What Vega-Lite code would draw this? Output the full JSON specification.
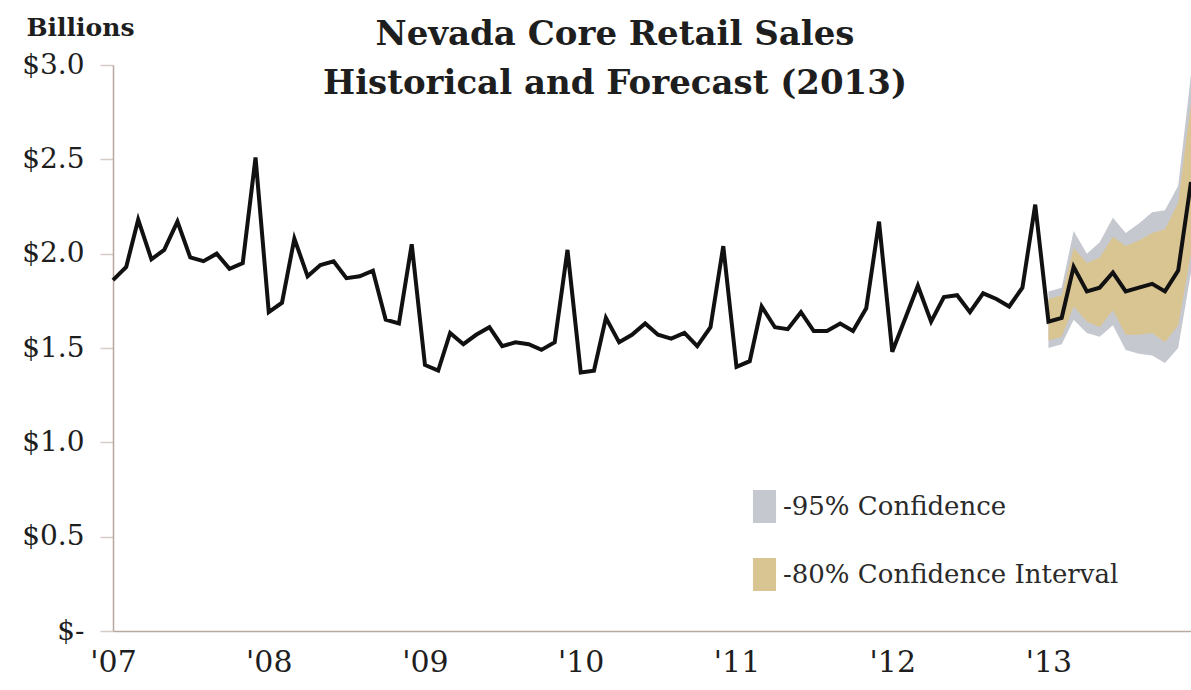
{
  "$schema": "https://vega.github.io/schema/vega-lite/v6.json",
  "width": 1078,
  "height": 566,
  "autosize": {"type": "none"},
  "padding": {"left": 113, "top": 65, "right": 0, "bottom": 59},
  "background": "white",
  "config": {"view": {"stroke": null}, "font": "DejaVu Serif"},
  "title": {
    "text": ["Nevada Core Retail Sales", "Historical and Forecast (2013)"],
    "font": "DejaVu Serif",
    "fontSize": 34,
    "fontWeight": "bold",
    "color": "#1e1e1e",
    "anchor": "middle",
    "frame": "group",
    "baseline": "alphabetic",
    "dx": -37,
    "dy": 113,
    "offset": 0,
    "lineHeight": 49
  },
  "data": {
    "values": [
      {"month": "2007-01-01T00:00", "sales": 1.86},
      {"month": "2007-02-01T00:00", "sales": 1.93},
      {"month": "2007-03-01T00:00", "sales": 2.18},
      {"month": "2007-04-01T00:00", "sales": 1.97},
      {"month": "2007-05-01T00:00", "sales": 2.02},
      {"month": "2007-06-01T00:00", "sales": 2.17},
      {"month": "2007-07-01T00:00", "sales": 1.98},
      {"month": "2007-08-01T00:00", "sales": 1.96},
      {"month": "2007-09-01T00:00", "sales": 2.00},
      {"month": "2007-10-01T00:00", "sales": 1.92},
      {"month": "2007-11-01T00:00", "sales": 1.95},
      {"month": "2007-12-01T00:00", "sales": 2.51},
      {"month": "2008-01-01T00:00", "sales": 1.69},
      {"month": "2008-02-01T00:00", "sales": 1.74},
      {"month": "2008-03-01T00:00", "sales": 2.08},
      {"month": "2008-04-01T00:00", "sales": 1.88},
      {"month": "2008-05-01T00:00", "sales": 1.94},
      {"month": "2008-06-01T00:00", "sales": 1.96},
      {"month": "2008-07-01T00:00", "sales": 1.87},
      {"month": "2008-08-01T00:00", "sales": 1.88},
      {"month": "2008-09-01T00:00", "sales": 1.91},
      {"month": "2008-10-01T00:00", "sales": 1.65},
      {"month": "2008-11-01T00:00", "sales": 1.63},
      {"month": "2008-12-01T00:00", "sales": 2.05},
      {"month": "2009-01-01T00:00", "sales": 1.41},
      {"month": "2009-02-01T00:00", "sales": 1.38},
      {"month": "2009-03-01T00:00", "sales": 1.58},
      {"month": "2009-04-01T00:00", "sales": 1.52},
      {"month": "2009-05-01T00:00", "sales": 1.57},
      {"month": "2009-06-01T00:00", "sales": 1.61},
      {"month": "2009-07-01T00:00", "sales": 1.51},
      {"month": "2009-08-01T00:00", "sales": 1.53},
      {"month": "2009-09-01T00:00", "sales": 1.52},
      {"month": "2009-10-01T00:00", "sales": 1.49},
      {"month": "2009-11-01T00:00", "sales": 1.53},
      {"month": "2009-12-01T00:00", "sales": 2.02},
      {"month": "2010-01-01T00:00", "sales": 1.37},
      {"month": "2010-02-01T00:00", "sales": 1.38},
      {"month": "2010-03-01T00:00", "sales": 1.66},
      {"month": "2010-04-01T00:00", "sales": 1.53},
      {"month": "2010-05-01T00:00", "sales": 1.57},
      {"month": "2010-06-01T00:00", "sales": 1.63},
      {"month": "2010-07-01T00:00", "sales": 1.57},
      {"month": "2010-08-01T00:00", "sales": 1.55},
      {"month": "2010-09-01T00:00", "sales": 1.58},
      {"month": "2010-10-01T00:00", "sales": 1.51},
      {"month": "2010-11-01T00:00", "sales": 1.61},
      {"month": "2010-12-01T00:00", "sales": 2.04},
      {"month": "2011-01-01T00:00", "sales": 1.40},
      {"month": "2011-02-01T00:00", "sales": 1.43},
      {"month": "2011-03-01T00:00", "sales": 1.72},
      {"month": "2011-04-01T00:00", "sales": 1.61},
      {"month": "2011-05-01T00:00", "sales": 1.60},
      {"month": "2011-06-01T00:00", "sales": 1.69},
      {"month": "2011-07-01T00:00", "sales": 1.59},
      {"month": "2011-08-01T00:00", "sales": 1.59},
      {"month": "2011-09-01T00:00", "sales": 1.63},
      {"month": "2011-10-01T00:00", "sales": 1.59},
      {"month": "2011-11-01T00:00", "sales": 1.71},
      {"month": "2011-12-01T00:00", "sales": 2.17},
      {"month": "2012-01-01T00:00", "sales": 1.48},
      {"month": "2012-02-01T00:00", "sales": 1.66},
      {"month": "2012-03-01T00:00", "sales": 1.83},
      {"month": "2012-04-01T00:00", "sales": 1.64},
      {"month": "2012-05-01T00:00", "sales": 1.77},
      {"month": "2012-06-01T00:00", "sales": 1.78},
      {"month": "2012-07-01T00:00", "sales": 1.69},
      {"month": "2012-08-01T00:00", "sales": 1.79},
      {"month": "2012-09-01T00:00", "sales": 1.76},
      {"month": "2012-10-01T00:00", "sales": 1.72},
      {"month": "2012-11-01T00:00", "sales": 1.82},
      {"month": "2012-12-01T00:00", "sales": 2.26},
      {"month": "2013-01-01T00:00", "sales": 1.64, "lo95": 1.50, "hi95": 1.80, "lo80": 1.54, "hi80": 1.76},
      {"month": "2013-02-01T00:00", "sales": 1.66, "lo95": 1.52, "hi95": 1.82, "lo80": 1.56, "hi80": 1.78},
      {"month": "2013-03-01T00:00", "sales": 1.93, "lo95": 1.65, "hi95": 2.12, "lo80": 1.72, "hi80": 2.03},
      {"month": "2013-04-01T00:00", "sales": 1.80, "lo95": 1.58, "hi95": 2.00, "lo80": 1.64, "hi80": 1.95},
      {"month": "2013-05-01T00:00", "sales": 1.82, "lo95": 1.56, "hi95": 2.06, "lo80": 1.61, "hi80": 1.98},
      {"month": "2013-06-01T00:00", "sales": 1.90, "lo95": 1.62, "hi95": 2.19, "lo80": 1.70, "hi80": 2.09},
      {"month": "2013-07-01T00:00", "sales": 1.80, "lo95": 1.49, "hi95": 2.11, "lo80": 1.57, "hi80": 2.04},
      {"month": "2013-08-01T00:00", "sales": 1.82, "lo95": 1.47, "hi95": 2.16, "lo80": 1.57, "hi80": 2.07},
      {"month": "2013-09-01T00:00", "sales": 1.84, "lo95": 1.46, "hi95": 2.22, "lo80": 1.58, "hi80": 2.11},
      {"month": "2013-10-01T00:00", "sales": 1.80, "lo95": 1.42, "hi95": 2.23, "lo80": 1.53, "hi80": 2.13},
      {"month": "2013-11-01T00:00", "sales": 1.91, "lo95": 1.50, "hi95": 2.36, "lo80": 1.62, "hi80": 2.27},
      {"month": "2013-12-01T00:00", "sales": 2.38, "lo95": 1.90, "hi95": 2.95, "lo80": 2.00, "hi80": 2.80}
    ]
  },
  "encoding": {
    "x": {
      "field": "month",
      "type": "temporal",
      "scale": {"domain": [{"year": 2007, "month": 1, "date": 1}, {"year": 2013, "month": 12, "date": 1}]},
      "axis": {
        "title": null,
        "values": [
          {"year": 2007, "month": 1, "date": 1},
          {"year": 2008, "month": 1, "date": 1},
          {"year": 2009, "month": 1, "date": 1},
          {"year": 2010, "month": 1, "date": 1},
          {"year": 2011, "month": 1, "date": 1},
          {"year": 2012, "month": 1, "date": 1},
          {"year": 2013, "month": 1, "date": 1}
        ],
        "format": "'%y",
        "ticks": false,
        "grid": false,
        "domainColor": "#b9a8a0",
        "domainWidth": 1.5,
        "labelFont": "DejaVu Serif",
        "labelFontSize": 30,
        "labelColor": "#1e1e1e",
        "labelPadding": 16,
        "labelFlush": false,
        "labelOverlap": false
      }
    }
  },
  "layer": [
    {
      "mark": {"type": "area", "opacity": 1},
      "encoding": {
        "y": {
          "field": "lo95",
          "type": "quantitative",
          "scale": {"domain": [0, 3], "nice": false},
          "axis": {
            "title": "Billions",
            "titleAngle": 0,
            "titleFont": "DejaVu Serif",
            "titleFontSize": 25,
            "titleFontWeight": "bold",
            "titleColor": "#1e1e1e",
            "titleAlign": "center",
            "titleBaseline": "alphabetic",
            "titleX": -33,
            "titleY": -30,
            "values": [0, 0.5, 1, 1.5, 2, 2.5, 3],
            "labelExpr": "datum.value == 0 ? '$-' : '$' + format(datum.value, '.1f')",
            "labelFont": "DejaVu Serif",
            "labelFontSize": 28,
            "labelColor": "#1e1e1e",
            "labelPadding": 16,
            "tickSize": 13,
            "tickColor": "#d6cbc6",
            "tickWidth": 1.5,
            "domainColor": "#b9a8a0",
            "domainWidth": 1.5,
            "grid": false
          }
        },
        "y2": {"field": "hi95"},
        "color": {
          "datum": "-95% Confidence",
          "scale": {"domain": ["-95% Confidence", "-80% Confidence Interval"], "range": ["#c6c8d0", "#d9c592"]},
          "legend": {
            "orient": "none",
            "legendX": 635,
            "legendY": 425,
            "title": null,
            "symbolType": "M-0.7,-1H0.7V1H-0.7Z",
            "symbolSize": 1089,
            "symbolStrokeWidth": 0,
            "symbolOpacity": 1,
            "labelFont": "DejaVu Serif",
            "labelFontSize": 26,
            "labelColor": "#2a2a2a",
            "labelOffset": 2,
            "labelLimit": 0,
            "rowPadding": 35
          }
        }
      }
    },
    {
      "mark": {"type": "area", "opacity": 1},
      "encoding": {
        "y": {"field": "lo80", "type": "quantitative", "title": "Billions"},
        "y2": {"field": "hi80"},
        "color": {"datum": "-80% Confidence Interval"}
      }
    },
    {
      "mark": {"type": "line", "color": "#111111", "strokeWidth": 4, "strokeJoin": "miter"},
      "encoding": {
        "y": {"field": "sales", "type": "quantitative", "title": "Billions"}
      }
    }
  ]
}
